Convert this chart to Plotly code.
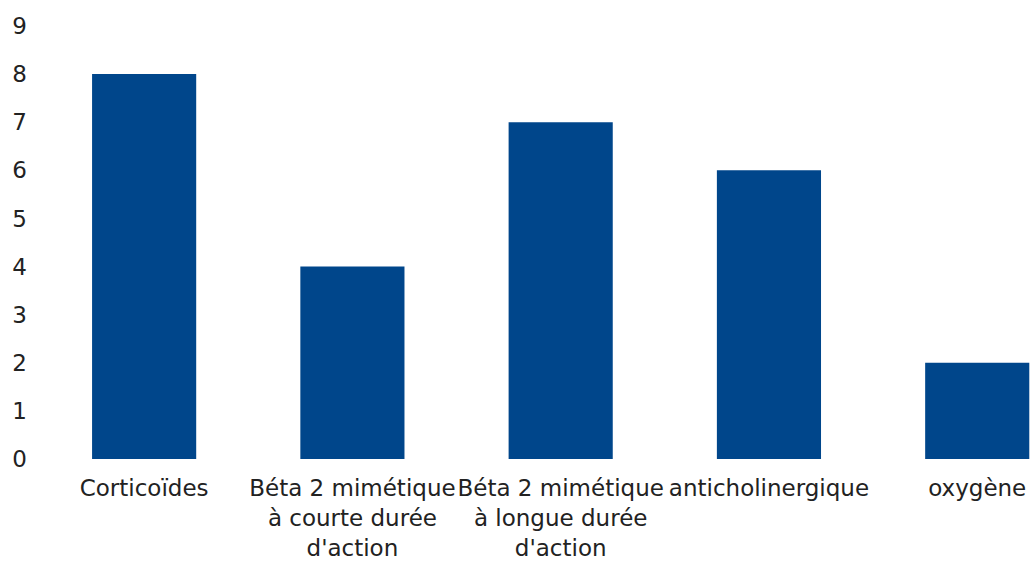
import plotly.graph_objects as go

categories = [
    "Corticoïdes",
    "Béta 2 mimétique<br>à courte durée<br>d'action",
    "Béta 2 mimétique<br>à longue durée<br>d'action",
    "anticholinergique",
    "oxygène",
]
values = [8, 4, 7, 6, 2]
y_ticks = list(range(0, 10))

fig = go.Figure(
    go.Bar(
        x=list(range(len(categories))),
        y=values,
        width=0.5,
        marker=dict(color="#00468b", line=dict(width=0)),
    )
)

fig.update_layout(
    width=1032,
    height=561,
    margin=dict(l=40, r=0, t=26, b=102),
    paper_bgcolor="white",
    plot_bgcolor="white",
    font=dict(family="DejaVu Sans, sans-serif", size=23, color="#222222"),
    showlegend=False,
    bargap=0.5,
)

fig.update_xaxes(
    tickmode="array",
    tickvals=list(range(len(categories))),
    ticktext=categories,
    range=[-0.5, 4.263],
    showgrid=False,
    zeroline=False,
    showline=False,
    ticks="",
    ticklabelstandoff=13,
    tickangle=0,
)

fig.update_yaxes(
    range=[0, 9],
    tickmode="array",
    tickvals=y_ticks,
    showgrid=False,
    zeroline=False,
    showline=False,
    ticks="",
    ticklabelstandoff=12,
)

fig.write_html("out.html")
